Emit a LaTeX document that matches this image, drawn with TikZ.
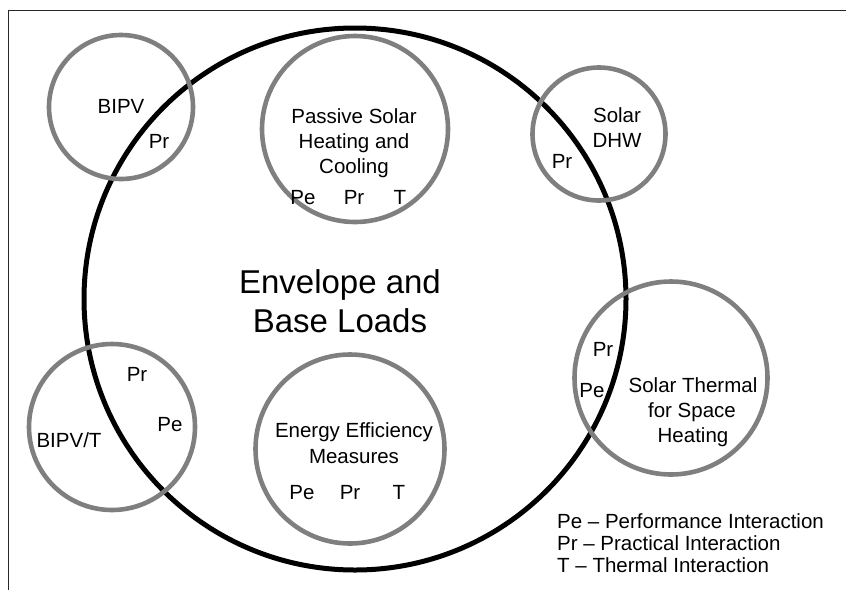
\documentclass[tikz,border=0pt]{standalone}
\usepackage{fontspec}
\setmainfont{Liberation Sans}
\begin{document}
\begin{tikzpicture}[x=1pt,y=-1pt,
  ring/.style={draw=black, line width=5pt, circle, inner sep=0pt},
  bubble/.style={draw=ringgray, line width=4.6pt, circle, inner sep=0pt},
  lbl/.style={anchor=base, inner sep=0pt, font=\fontsize{20.5}{25}\selectfont},
  big/.style={anchor=base, inner sep=0pt, font=\fontsize{33}{39}\selectfont},
  key/.style={anchor=base west, inner sep=0pt, font=\fontsize{20.5}{22}\selectfont}]
\definecolor{ringgray}{HTML}{7F7F7F}
\useasboundingbox (0,0) rectangle (846,590);
% frame edges
\draw[line width=1pt, black!85] (846,10) -- (8.5,10) -- (8.5,590);

% envelope circle
\node[ring, minimum size=542pt] (env) at (355,299) {};

% surrounding systems
\node[bubble, minimum size=144pt] (bipv)    at (121,107) {};
\node[bubble, minimum size=133pt] (dhw)     at (599,134) {};
\node[bubble, minimum size=186pt] (passive) at (355,129) {};
\node[bubble, minimum size=189pt] (eem)     at (350,449) {};
\node[bubble, minimum size=193pt] (sth)     at (671,378) {};
\node[bubble, minimum size=166pt] (bipvt)   at (112,427) {};

% central label
\node[big] (envA) at (340,293) {Envelope and};
\node[big] (envB) at (340,332) {Base Loads};

% BIPV
\node[lbl] (bipvA) at (121,113) {BIPV};
\node[lbl] (bipvPr) at (159,148) {Pr};

% Solar DHW
\node[lbl] (dhwA) at (617,122) {Solar};
\node[lbl] (dhwB) at (617,147) {DHW};
\node[lbl] (dhwPr) at (562,168) {Pr};

% Passive solar
\node[lbl] (psA) at (354,123) {Passive Solar};
\node[lbl] (psB) at (354,148) {Heating and};
\node[lbl] (psC) at (354,173) {Cooling};
\node[lbl] (psPe) at (303,204) {Pe};
\node[lbl] (psPr) at (354,204) {Pr};
\node[lbl] (psT) at (400,204) {T};

% Energy efficiency
\node[lbl] (eeA) at (354,437) {Energy Efficiency};
\node[lbl] (eeB) at (354,463) {Measures};
\node[lbl] (eePe) at (302,499) {Pe};
\node[lbl] (eePr) at (350,499) {Pr};
\node[lbl] (eeT) at (399,499) {T};

% Solar thermal for space heating
\node[lbl] (stA) at (693,392) {Solar Thermal};
\node[lbl] (stB) at (692,417) {for Space};
\node[lbl] (stC) at (693,442) {Heating};
\node[lbl] (stPr) at (603,356) {Pr};
\node[lbl] (stPe) at (592,397) {Pe};

% BIPV/T
\node[lbl] (btA) at (69,447) {BIPV/T};
\node[lbl] (btPr) at (137,381) {Pr};
\node[lbl] (btPe) at (170,431) {Pe};

% key
\node[key] (k1) at (557,528) {Pe -- Performance Interaction};
\node[key] (k2) at (557,550) {Pr -- Practical Interaction};
\node[key] (k3) at (557,572) {T -- Thermal Interaction};
\end{tikzpicture}
\end{document}
